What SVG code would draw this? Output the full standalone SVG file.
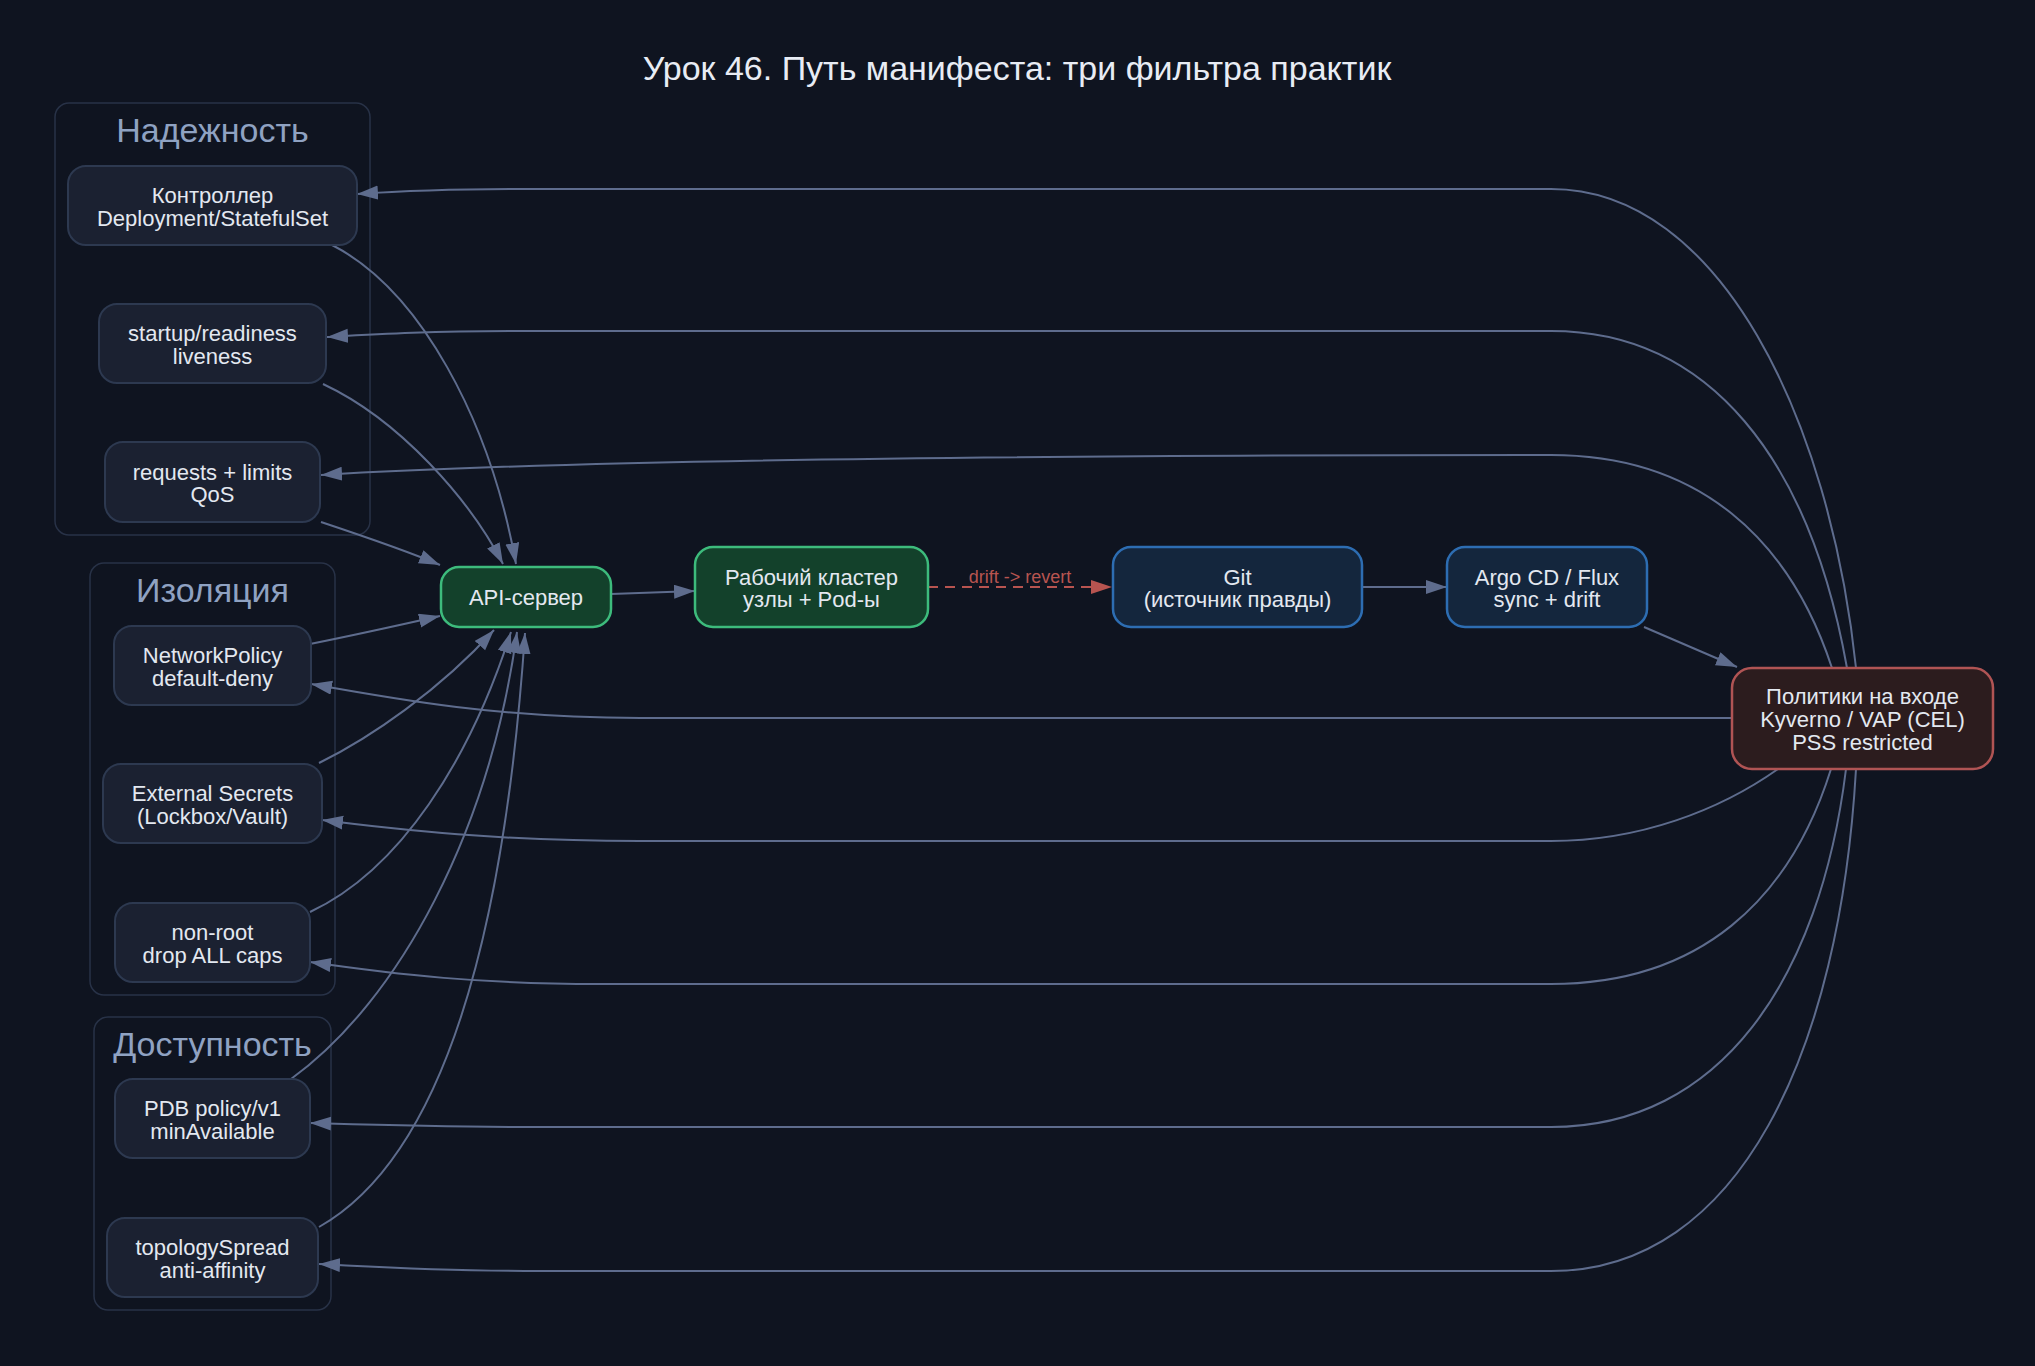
<svg xmlns="http://www.w3.org/2000/svg" width="2035" height="1366" viewBox="0 0 2035 1366">
<style>
.bg{fill:#0f1420}
.title{font-family:"Liberation Sans",Arial,sans-serif;font-size:34px;fill:#e8ecf4;text-anchor:middle}
.cl rect{fill:#0f1420;stroke:#283247;stroke-width:1.5}
.cl text{font-family:"Liberation Sans",Arial,sans-serif;font-size:34px;fill:#8fa2c2;text-anchor:middle}
.n text{font-family:"Liberation Sans",Arial,sans-serif;font-size:22px;fill:#e3e8f0;text-anchor:middle}
.g rect{fill:#1b2131;stroke:#2d3950;stroke-width:2}
.gr rect{fill:#13412b;stroke:#3dbb7c;stroke-width:2.5}
.bl rect{fill:#14263d;stroke:#2d6db2;stroke-width:2.5}
.rd rect{fill:#2c1c1e;stroke:#b05454;stroke-width:2.5}
.e path{fill:none;stroke:#5e6c8d;stroke-width:2;marker-end:url(#ah)}
.e path.d{stroke:#b85450;stroke-dasharray:10 7;marker-end:url(#ahr)}
.lbl{font-family:"Liberation Sans",Arial,sans-serif;font-size:18px;fill:#b85450;text-anchor:middle}
</style>
<defs>
<marker id="ah" markerUnits="userSpaceOnUse" markerWidth="22" markerHeight="16" refX="21" refY="7" orient="auto"><path d="M0,0 L21,7 L0,14 Z" fill="#5e6c8d"/></marker>
<marker id="ahr" markerUnits="userSpaceOnUse" markerWidth="22" markerHeight="16" refX="21" refY="7" orient="auto"><path d="M0,0 L21,7 L0,14 Z" fill="#b85450"/></marker>
</defs>
<rect class="bg" x="0" y="0" width="2035" height="1366"/>
<text class="title" x="1017" y="80">Урок 46. Путь манифеста: три фильтра практик</text>

<g id="cluster_reliability" class="cl"><rect x="55" y="103" width="315" height="432" rx="14"/><text x="212.5" y="141.5">Надежность</text></g>
<g id="cluster_isolation" class="cl"><rect x="90" y="563" width="245" height="432" rx="14"/><text x="212.5" y="601.7">Изоляция</text></g>
<g id="cluster_availability" class="cl"><rect x="94" y="1017" width="237" height="293" rx="14"/><text x="212.5" y="1055.5">Доступность</text></g>

<g id="edges" class="e">
<path d="M332,245 C420,290 490,420 516,564"/>
<path d="M323,384 C400,420 470,500 503,564"/>
<path d="M321,522 C360,535 405,550 440,565"/>
<path d="M310,644 C350,636 400,625 440,616"/>
<path d="M319,763 C370,738 440,690 494,630"/>
<path d="M310,912 C400,870 470,760 511,632"/>
<path d="M291,1079 C400,1000 490,830 517,632"/>
<path d="M319,1227 C420,1170 500,1000 525,633"/>
<path d="M611,594 L695,591"/>
<path class="d" d="M928,587 L1112,587"/>
<path d="M1362,587 L1447,587"/>
<path d="M1644,627 L1737,667"/>
<path d="M1856,668 C1830,420 1720,189 1551,189 L520,189 C440,189 400,191 357,194"/>
<path d="M1847,668 C1810,460 1710,331 1551,331 L520,331 C430,331 380,334 327,337"/>
<path d="M1832,668 C1790,540 1700,455 1551,455 C1100,455 600,458 321,475"/>
<path d="M1733,718 L640,718 C500,718 400,700 311,684"/>
<path d="M1778,769 C1720,810 1640,841 1551,841 L640,841 C500,841 400,830 322,820"/>
<path d="M1831,769 C1790,900 1700,984 1551,984 L600,984 C480,984 400,975 310,962"/>
<path d="M1846,769 C1820,980 1720,1127 1551,1127 L540,1127 C440,1127 380,1125 310,1123"/>
<path d="M1856,769 C1840,1050 1740,1271 1551,1271 L540,1271 C440,1271 380,1267 319,1264"/>
</g>
<text class="lbl" x="1020" y="583">drift -&gt; revert</text>

<g id="controller" class="n g"><rect x="68" y="166" width="289" height="79" rx="18"/><text x="212.5" y="203">Контроллер</text><text x="212.5" y="225.5">Deployment/StatefulSet</text></g>
<g id="probes" class="n g"><rect x="99" y="304" width="227" height="79" rx="18"/><text x="212.5" y="341">startup/readiness</text><text x="212.5" y="363.5">liveness</text></g>
<g id="resources" class="n g"><rect x="105" y="442" width="215" height="80" rx="18"/><text x="212.5" y="480">requests + limits</text><text x="212.5" y="502">QoS</text></g>
<g id="netpol" class="n g"><rect x="114" y="626" width="197" height="79" rx="18"/><text x="212.5" y="663.3">NetworkPolicy</text><text x="212.5" y="685.7">default-deny</text></g>
<g id="secrets" class="n g"><rect x="103" y="764" width="219" height="79" rx="18"/><text x="212.5" y="801">External Secrets</text><text x="212.5" y="823.5">(Lockbox/Vault)</text></g>
<g id="nonroot" class="n g"><rect x="115" y="903" width="195" height="79" rx="18"/><text x="212.5" y="940">non-root</text><text x="212.5" y="962.5">drop ALL caps</text></g>
<g id="pdb" class="n g"><rect x="115" y="1079" width="195" height="79" rx="18"/><text x="212.5" y="1116">PDB policy/v1</text><text x="212.5" y="1138.5">minAvailable</text></g>
<g id="topology" class="n g"><rect x="107" y="1218" width="211" height="79" rx="18"/><text x="212.5" y="1255">topologySpread</text><text x="212.5" y="1277.5">anti-affinity</text></g>
<g id="api" class="n gr"><rect x="441" y="567" width="170" height="60" rx="18"/><text x="526" y="605">API-сервер</text></g>
<g id="cluster" class="n gr"><rect x="695" y="547" width="233" height="80" rx="18"/><text x="811.5" y="584.5">Рабочий кластер</text><text x="811.5" y="607">узлы + Pod-ы</text></g>
<g id="git" class="n bl"><rect x="1113" y="547" width="249" height="80" rx="18"/><text x="1237.5" y="584.5">Git</text><text x="1237.5" y="607">(источник правды)</text></g>
<g id="argo" class="n bl"><rect x="1447" y="547" width="200" height="80" rx="18"/><text x="1547" y="584.5">Argo CD / Flux</text><text x="1547" y="607">sync + drift</text></g>
<g id="policies" class="n rd"><rect x="1732" y="668" width="261" height="101" rx="20"/><text x="1862.5" y="704.3">Политики на входе</text><text x="1862.5" y="727.3">Kyverno / VAP (CEL)</text><text x="1862.5" y="750">PSS restricted</text></g>
</svg>
